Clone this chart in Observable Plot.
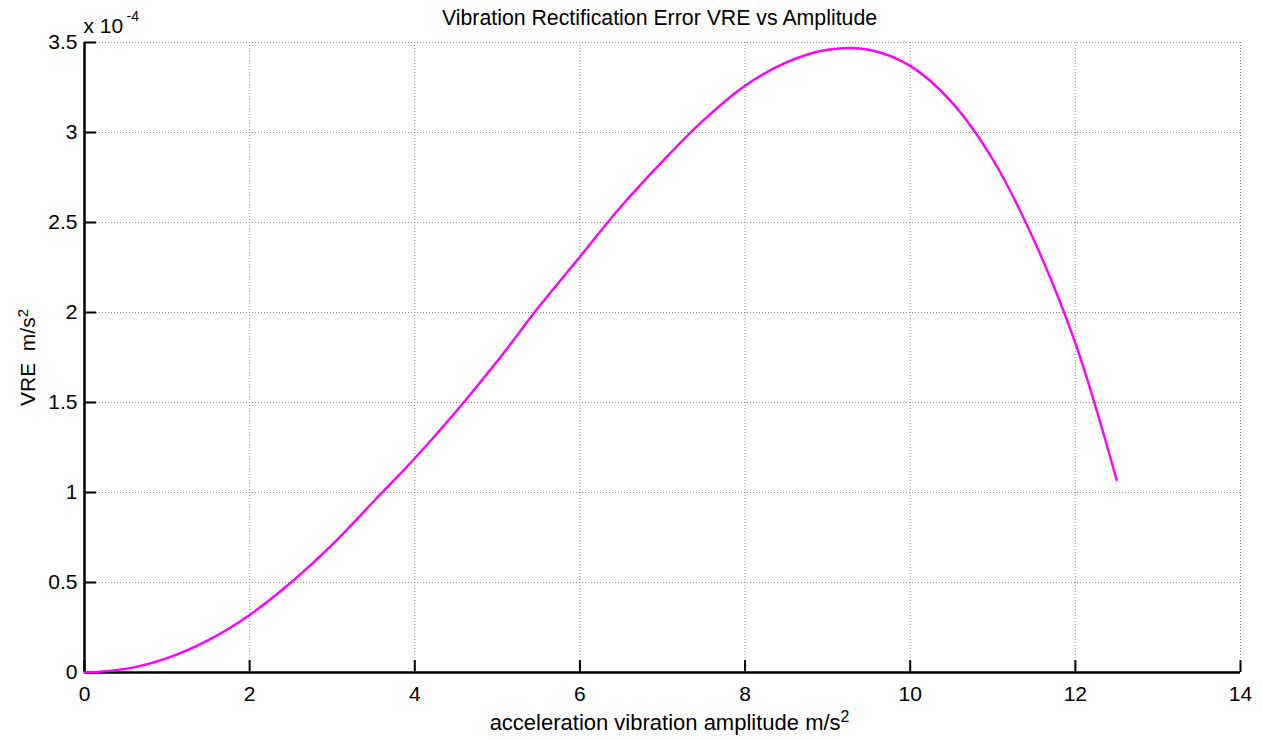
<!DOCTYPE html>
<html>
<head>
<meta charset="utf-8">
<script src="https://cdn.jsdelivr.net/npm/d3@7"></script>
<script src="https://cdn.jsdelivr.net/npm/@observablehq/plot@0.6"></script>
<style>
  html, body { margin: 0; padding: 0; background: #fff; }
  #chart svg { display: block; }
</style>
</head>
<body>
<div id="chart"></div>
<script>
// Data (y in units of 1e-4 m/s^2)
const amplitude = [0, 0.5, 1, 1.5, 2, 2.5, 3, 3.5, 4, 4.5, 5, 5.5, 6, 6.5, 7, 7.5, 8, 8.5, 9, 9.5, 10, 10.5, 11, 11.5, 12, 12.5];
const vre = [0, 0.02, 0.08, 0.18, 0.32, 0.50, 0.71, 0.95, 1.19, 1.45, 1.73, 2.03, 2.31, 2.59, 2.84, 3.07, 3.26, 3.39, 3.46, 3.46, 3.37, 3.17, 2.85, 2.40, 1.83, 1.07];
const xTicks = [0, 2, 4, 6, 8, 10, 12, 14];
const yTicks = [0, 0.5, 1, 1.5, 2, 2.5, 3, 3.5];
const yTickLabels = ["0", "0.5", "1", "1.5", "2", "2.5", "3", "3.5"];
const titleText = "Vibration Rectification Error VRE vs Amplitude";
const xLabel = "acceleration vibration amplitude m/s²";
const yLabel = "VRE  m/s²";
const exponentBase = "x 10";
const exponentPower = "-4";

const rows = amplitude.map((a, i) => ({a, v: vre[i]}));

const W = 1263, H = 740;
const mL = 84, mR = 23, mT = 42, mB = 68;
const plotW = W - mL - mR, plotH = H - mT - mB;
const font = "'Liberation Sans', Arial, Helvetica, sans-serif";
const gridStyle = {stroke: "#8a8a8a", strokeOpacity: 1, strokeWidth: 1, strokeDasharray: "1,2"};

const chart = Plot.plot({
  width: W,
  height: H,
  marginLeft: mL,
  marginRight: mR,
  marginTop: mT,
  marginBottom: mB,
  style: {fontFamily: font, fontSize: "21px", color: "#000", background: "#fff"},
  x: {domain: [0, 14], ticks: xTicks},
  y: {domain: [0, 3.5], ticks: yTicks},
  marks: [
    Plot.gridX(xTicks, gridStyle),
    Plot.gridY(yTicks, gridStyle),
    Plot.axisX(xTicks, {tickSize: 0, tickPadding: 14, fontSize: 21, label: null}),
    Plot.axisY(yTicks, {tickSize: 0, tickPadding: 7, fontSize: 21, label: null, tickFormat: d => yTickLabels[yTicks.indexOf(d)]}),
    Plot.tickY(yTicks, {y: d => d, stroke: "#000", strokeWidth: 2, insetRight: plotW - 12}),
    Plot.tickX(xTicks, {x: d => d, stroke: "#000", strokeWidth: 2, insetTop: plotH - 12}),
    Plot.ruleX([0], {stroke: "#000", strokeWidth: 2.5}),
    Plot.ruleY([0], {stroke: "#000", strokeWidth: 2.5}),
    Plot.line(rows, {x: "a", y: "v", stroke: "#ff00ff", strokeWidth: 2.4, curve: "catmull-rom"}),
    Plot.text([titleText], {frameAnchor: "top", lineAnchor: "top", textAnchor: "middle", dx: -3, dy: -33, fontSize: 21.3, fill: "#000"}),
    Plot.text([xLabel], {frameAnchor: "bottom", lineAnchor: "bottom", textAnchor: "middle", dx: 7, dy: 57, fontSize: 22, fill: "#000"}),
    Plot.text([yLabel], {frameAnchor: "left", rotate: -90, textAnchor: "middle", lineAnchor: "middle", dx: -56, fontSize: 21, fill: "#000"}),
    Plot.text([exponentBase], {frameAnchor: "top-left", lineAnchor: "middle", textAnchor: "start", dx: -1, dy: -16.5, fontSize: 21, fill: "#000"}),
    Plot.text([exponentPower], {frameAnchor: "top-left", lineAnchor: "middle", textAnchor: "start", dx: 42, dy: -26, fontSize: 14, fill: "#000"})
  ]
});

// Render "²" as a raised superscript, like the reference
d3.select(chart).selectAll("text").each(function() {
  const t = this.textContent;
  if (t.endsWith("²") && this.children.length === 0) {
    this.textContent = t.slice(0, -1);
    d3.select(this).append("tspan")
      .attr("dy", "-0.5em")
      .attr("font-size", "0.72em")
      .text("2");
  }
});

document.getElementById("chart").appendChild(chart);
</script>
</body>
</html>
